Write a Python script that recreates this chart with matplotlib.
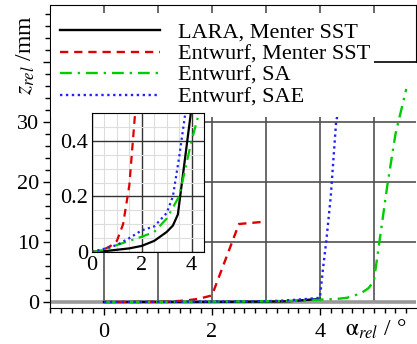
import matplotlib
matplotlib.use('Agg')
import matplotlib.pyplot as plt
from matplotlib.ticker import MultipleLocator, FixedLocator

plt.rcParams['font.family'] = 'Liberation Serif'
plt.rcParams['mathtext.fontset'] = 'stix'

# Kurven
lara_x = [0, 0.5, 1, 1.5, 2, 2.5, 3, 3.25, 3.45, 4.0]
lara_y = [0, 0.003, 0.008, 0.013, 0.022, 0.04, 0.072, 0.095, 0.135, 0.52]

red_x = [0, 0.25, 0.5, 0.75, 1.0, 1.25, 1.5, 1.75, 2.0, 2.5, 3.0]
red_y = [0, 0.003, 0.01, 0.022, 0.04, 0.1, 0.24, 0.52, 1.1, 13.0, 13.4]

green_x = [0, 0.5, 1, 1.5, 2, 2.5, 3, 3.5, 4, 4.3, 4.5, 4.75, 4.9, 5.0, 5.25, 5.4, 5.6]
green_y = [0, 0.008, 0.025, 0.04, 0.055, 0.072, 0.12, 0.2, 0.4, 0.5, 0.7, 1.4, 2.3, 3.5, 19.5, 28, 35.5]

blue_x = [0, 0.5, 1, 1.5, 2, 2.5, 3, 3.25, 3.5, 3.75, 4.0, 4.05, 4.12, 4.2, 4.3, 4.35]
blue_y = [0, 0.012, 0.025, 0.05, 0.078, 0.092, 0.14, 0.2, 0.34, 0.5, 0.7, 5.0, 10.3, 17.5, 30.0, 32.3]

labels = ['LARA, Menter SST', 'Entwurf, Menter SST', 'Entwurf, SA', 'Entwurf, SAE']

W, H = 417, 344
fig = plt.figure(figsize=(W / 100, H / 100), dpi=100)
ax = fig.add_axes([50 / W, (H - 308) / H, 366 / W, 303 / H])
ax.set_xlim(-1, 5.78)
ax.set_ylim(-1, 49.5)

# Gitter
grid_c = '#505050'
ax.vlines([0, 1, 2, 3, 4, 5], 0, 49.5, color=grid_c, lw=1.2, zorder=1)
ax.hlines([10, 20, 30], 0, 5.78, color=grid_c, lw=1.2, zorder=1)
ax.axhline(0, color='#999999', lw=2.6, zorder=1)

styles = [dict(color='black', ls='-'),
          dict(color='#dd0000', ls=(0, (3.5, 2.5))),
          dict(color='#00cc00', ls=(0, (5, 2.5, 1, 2.5))),
          dict(color='#2222ff', ls=(0, (1, 1.5)))]
data = [(lara_x, lara_y), (red_x, red_y), (green_x, green_y), (blue_x, blue_y)]
handles = []
for (xx, yy), st, lab in zip(data, styles, labels):
    h, = ax.plot(xx, yy, lw=1.7, label=lab, zorder=3, **st)
    handles.append(h)

ax.set_xticks([0, 2, 4])
ax.xaxis.set_minor_locator(MultipleLocator(0.2))
ax.set_yticks([0, 10, 20, 30, 40])
ax.set_yticklabels(['0', '10', '20', '30', ''])
ax.yaxis.set_minor_locator(MultipleLocator(2))
ax.tick_params(which='both', direction='out', labelsize=16, width=1)
ax.tick_params(which='major', length=5)
ax.tick_params(which='minor', length=3.5)
ax.tick_params(axis='x', pad=6)
ax.tick_params(axis='y', pad=3)
ax.spines['right'].set_bounds(40, 49.5)

leg = ax.legend(handles=handles, loc='upper left', bbox_to_anchor=(0.003, 0.973),
                borderaxespad=0, fontsize=16, handlelength=4.5, handletextpad=0.8,
                labelspacing=0.05, frameon=True, fancybox=False, framealpha=1,
                facecolor='white', edgecolor='none', borderpad=0.4)
leg.set_zorder(5)
# Gitterlinie bei 40 rechts neben der Legende
ax.hlines([40], 5.0, 5.78, color='black', lw=1.2, zorder=6)

fig.text(26 / W, 1 - 55 / H, r'$z_{rel}$ /mm', rotation=90, ha='center', va='center', fontsize=17)
fig.text(345 / W, (H - 336) / H, r'$\mathrm{\alpha}_{rel}$ / °', ha='left', va='baseline', fontsize=17)

# Ausschnitt
ax2 = fig.add_axes([92 / W, (H - 252) / H, 112 / W, 139 / H])
ax2.set_xlim(0, 4.5)
ax2.set_ylim(0, 0.5)
ax2.xaxis.set_major_locator(FixedLocator([0, 2, 4]))
ax2.yaxis.set_major_locator(FixedLocator([0, 0.2, 0.4]))
ax2.set_yticklabels(['0', '0.2', '0.4'])
ax2.xaxis.set_minor_locator(MultipleLocator(0.5))
ax2.yaxis.set_minor_locator(MultipleLocator(0.05))
ax2.grid(which='minor', color='#dddddd', lw=0.8)
ax2.grid(which='major', color='#333333', lw=1.0)
ax2.set_axisbelow(True)
ax2.tick_params(which='both', length=0, labelsize=16, pad=3)
for (xx, yy), st in zip(data, styles):
    ax2.plot(xx, yy, lw=1.6, zorder=3, **st)

fig.savefig('out.png', dpi=100)
